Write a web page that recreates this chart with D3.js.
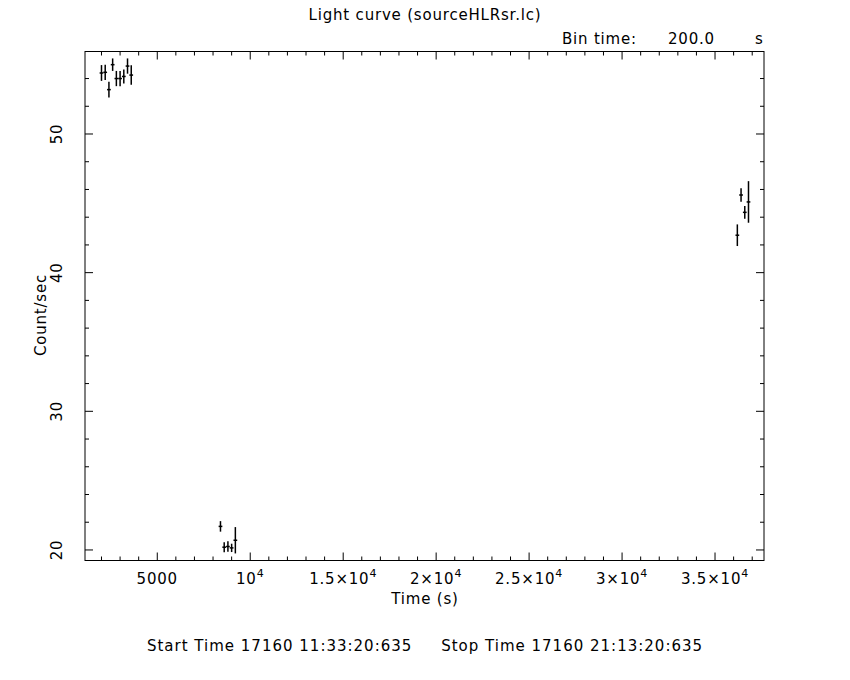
<!DOCTYPE html>
<html>
<head>
	<title>Light curve</title>
	<script type="text/javascript" src="https://cdnjs.cloudflare.com/ajax/libs/d3/7.8.5/d3.min.js"></script>
	<style>
		body { margin: 0; background: white; }
		text { font-family: "DejaVu Sans", sans-serif; font-size: 15px; fill: black; letter-spacing: 0.8px; white-space: pre; }
	</style>
</head>
<body>
	<svg id="chart" width="850" height="680"></svg>
	<script type="text/javascript">
		// bin centres (s), rates (count/s) and 1-sigma errors
		var times = [2000, 2200, 2400, 2600, 2800, 3000, 3200, 3400, 3600,
			8400, 8600, 8800, 9000, 9200,
			36200, 36400, 36600, 36800];
		var rates = [54.4, 54.45, 53.2, 55.0, 54.0, 54.0, 54.15, 54.9, 54.25,
			21.7, 20.2, 20.25, 20.15, 20.7,
			42.7, 45.6, 44.35, 45.1];
		var errors = [0.57, 0.55, 0.56, 0.45, 0.55, 0.55, 0.5, 0.55, 0.7,
			0.38, 0.36, 0.37, 0.3, 0.95,
			0.78, 0.49, 0.46, 1.5];
		var binTime = 200;

		var xMajor = [5000, 10000, 15000, 20000, 25000, 30000, 35000];
		var xLabels = [["5000", ""], ["10", "4"], ["1.5\u00d710", "4"], ["2\u00d710", "4"],
			["2.5\u00d710", "4"], ["3\u00d710", "4"], ["3.5\u00d710", "4"]];
		var yMajor = [20, 30, 40, 50];
		var yLabels = ["20", "30", "40", "50"];

		var plotLeft = 85, plotRight = 764, plotTop = 51.5, plotBottom = 560.5;
		var svg = d3.select("#chart");

		var x = d3.scaleLinear().domain([1113, 37634]).range([plotLeft, plotRight]);
		var y = d3.scaleLinear().domain([19.24, 55.95]).range([plotBottom, plotTop]);

		var xMinor = d3.range(2000, 37001, 1000);
		var yMinor = d3.range(20, 56, 2);

		//frame
		svg.append("rect")
			.attr("x", plotLeft).attr("y", plotTop)
			.attr("width", plotRight - plotLeft).attr("height", plotBottom - plotTop)
			.attr("fill", "none").attr("stroke", "black").attr("stroke-width", 1);

		//inward ticks on all four sides
		function isMajor(list, v) { return list.indexOf(v) >= 0; }
		xMinor.forEach(function (v) {
			var len = isMajor(xMajor, v) ? 8 : 4;
			svg.append("line").attr("x1", x(v)).attr("x2", x(v))
				.attr("y1", plotBottom).attr("y2", plotBottom - len).attr("stroke", "black");
			svg.append("line").attr("x1", x(v)).attr("x2", x(v))
				.attr("y1", plotTop).attr("y2", plotTop + len).attr("stroke", "black");
		});
		yMinor.forEach(function (v) {
			var len = isMajor(yMajor, v) ? 8 : 4;
			svg.append("line").attr("y1", y(v)).attr("y2", y(v))
				.attr("x1", plotLeft).attr("x2", plotLeft + len).attr("stroke", "black");
			svg.append("line").attr("y1", y(v)).attr("y2", y(v))
				.attr("x1", plotRight).attr("x2", plotRight - len).attr("stroke", "black");
		});

		//tick labels
		xMajor.forEach(function (v, i) {
			var t = svg.append("text").attr("x", x(v)).attr("y", 584).attr("text-anchor", "middle");
			t.append("tspan").text(xLabels[i][0]);
			if (xLabels[i][1]) {
				t.append("tspan").attr("dy", -7).attr("font-size", "11px").text(xLabels[i][1]);
			}
		});
		yMajor.forEach(function (v, i) {
			svg.append("text")
				.attr("transform", "translate(62," + y(v) + ") rotate(-90)")
				.attr("text-anchor", "middle")
				.text(yLabels[i]);
		});

		//error bars
		times.forEach(function (t, i) {
			svg.append("line")
				.attr("x1", x(t)).attr("x2", x(t))
				.attr("y1", y(rates[i] - errors[i])).attr("y2", y(rates[i] + errors[i]))
				.attr("stroke", "black").attr("stroke-width", 1.5);
			svg.append("line")
				.attr("x1", x(t - binTime / 2)).attr("x2", x(t + binTime / 2))
				.attr("y1", y(rates[i])).attr("y2", y(rates[i]))
				.attr("stroke", "black").attr("stroke-width", 1.5);
		});

		//titles
		svg.append("text").attr("x", 425).attr("y", 20).attr("text-anchor", "middle")
			.text("Light curve (sourceHLRsr.lc)");
		svg.append("text").attr("x", 562).attr("y", 44).text("Bin time:");
		svg.append("text").attr("x", 668).attr("y", 44).text("200.0");
		svg.append("text").attr("x", 755).attr("y", 44).text("s");
		svg.append("text").attr("x", 425).attr("y", 604).attr("text-anchor", "middle")
			.text("Time (s)");
		svg.append("text")
			.attr("transform", "translate(46,315) rotate(-90)")
			.attr("text-anchor", "middle")
			.text("Count/sec");
		svg.append("text").attr("x", 425).attr("y", 651).attr("text-anchor", "middle")
			.style("letter-spacing", "1px")
			.text("Start Time 17160 11:33:20:635     Stop Time 17160 21:13:20:635");
	</script>
</body>
</html>
